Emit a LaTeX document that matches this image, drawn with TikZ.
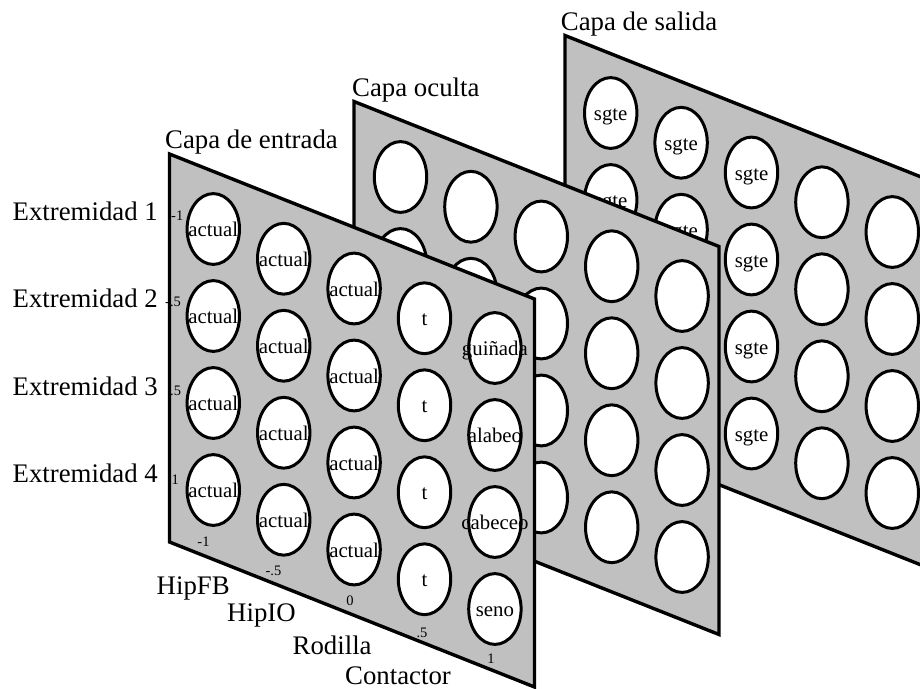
\documentclass[tikz,border=0pt]{standalone}
\usepackage{fontspec}
\setmainfont{Liberation Serif}
\usetikzlibrary{shapes.geometric}
\definecolor{panelgray}{RGB}{192,192,192}
\newcommand\bigfont{\fontsize{26.8}{30}\selectfont}
\newcommand\cellfont{\fontsize{20.8}{24}\selectfont}
\newcommand\tickfont{\fontsize{14.5}{17}\selectfont}
% one 5 x 4 grid of cells: #1 name prefix, #2/#3 centre of the first cell
\newcommand\cellgrid[3]{%
  \foreach \i in {0,...,4}{%
    \foreach \j in {0,...,3}{%
      \node[cell] (#1-\i-\j) at ({#2+70.4*\i},{#3+29.75*\i+87*\j}) {};
    }%
  }%
}
% cell rings, drawn after the texts
\newcommand\cellrings[1]{%
  \foreach \i in {0,...,4}{%
    \foreach \j in {0,...,3}{%
      \draw[ring] (#1-\i-\j.center) ellipse [x radius=26.2pt, y radius=35.4pt];
    }%
  }%
}
% sheet outline with its top-left corner at (#1,#2)
\newcommand\sheetpath[2]{(#1,#2) -- ++(365,145) -- ++(0,388) -- ++(-365,-145) -- cycle}
\begin{document}
\begin{tikzpicture}[x=1pt,y=-1pt,
  sheet/.style={fill=panelgray, draw=black, line width=3.4pt, line join=miter},
  sheetline/.style={draw=black, line width=3.4pt, line join=miter},
  cell/.style={shape=ellipse, fill=white, minimum width=52.4pt, minimum height=70.8pt, inner sep=0pt},
  ring/.style={draw=black, line width=3pt},
  celltext/.style={font=\cellfont, inner sep=0pt, text height=15pt, text depth=0pt},
  biglabel/.style={font=\bigfont, inner sep=0pt, anchor=base west},
  tick/.style={font=\tickfont, inner sep=0pt, anchor=base west},
  btick/.style={font=\tickfont, inner sep=0pt, anchor=base}]
\useasboundingbox (0,0) rectangle (920,688);
\begin{scope}
\clip (0,0) rectangle (920,688);

% ---------- output layer ----------
\path[sheet] \sheetpath{565}{35.5};
\cellgrid{out}{610.7}{113}
\foreach \i in {0,1,2}{\foreach \j in {0,...,3}{
  \node[celltext] (outt-\i-\j) at (out-\i-\j.center) {sgte};
}}
\cellrings{out}
\node[biglabel] (outlabel) at (560.7,30) {Capa de salida};

% ---------- hidden layer ----------
\path[sheet] \sheetpath{354}{101.5};
\cellgrid{hid}{400.5}{177}
\cellrings{hid}
\node[biglabel] (hidlabel) at (352,96.7) {Capa oculta};

% ---------- input layer ----------
\fill[panelgray] \sheetpath{169.5}{154};
\node[tick] (r1) at (171,220) {-1};
\node[tick] (r2) at (165,306.5) {-.5};
\node[tick] (r3) at (170,395) {.5};
\node[tick] (r4) at (171.5,484) {1};
\node[btick] (c1) at (203.5,546) {-1};
\node[btick] (c2) at (273.5,575) {-.5};
\node[btick] (c3) at (350,605) {0};
\node[btick] (c4) at (422,637) {.5};
\node[btick] (c5) at (491,663) {1};
\draw[sheetline] \sheetpath{169.5}{154};
\cellgrid{in}{213.3}{229}
\foreach \i in {0,1,2}{\foreach \j in {0,...,3}{
  \node[celltext] (int-\i-\j) at (in-\i-\j.center) {actual};
}}
\foreach \j in {0,...,3}{
  \node[celltext] (int-3-\j) at (in-3-\j.center) {t};
}
\foreach \j/\w in {0/guiñada,1/alabeo,2/cabeceo,3/seno}{
  \node[celltext] (int-4-\j) at (in-4-\j.center) {\w};
}
\cellrings{in}
\node[biglabel] (inlabel) at (165,148.3) {Capa de entrada};

% ---------- axis names ----------
\node[biglabel] (ext1) at (12.5,220.5) {Extremidad 1};
\node[biglabel] (ext2) at (12.5,307) {Extremidad 2};
\node[biglabel] (ext3) at (12.5,395) {Extremidad 3};
\node[biglabel] (ext4) at (12.5,482) {Extremidad 4};
\node[biglabel] (hipfb) at (156.5,594) {HipFB};
\node[biglabel] (hipio) at (227,621.5) {HipIO};
\node[biglabel] (rodilla) at (292.5,654) {Rodilla};
\node[biglabel] (contactor) at (345,684.5) {Contactor};
\end{scope}
\end{tikzpicture}
\end{document}
